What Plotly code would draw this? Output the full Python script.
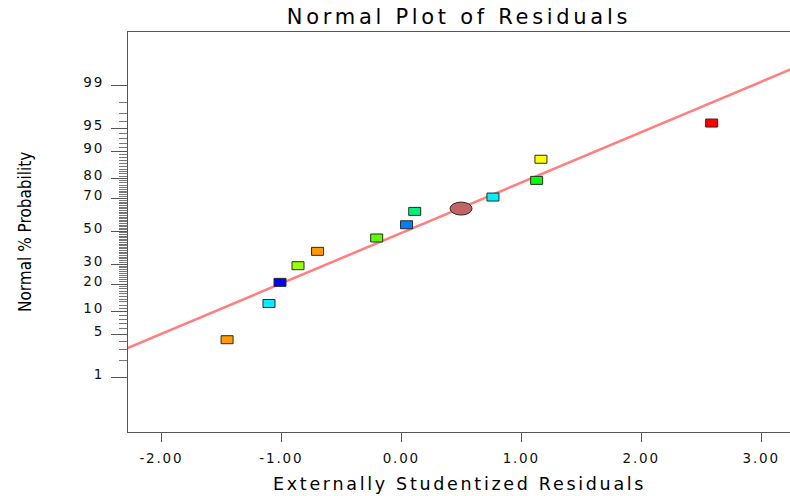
import plotly.graph_objects as go
from statistics import NormalDist

nd = NormalDist()

# ---------------- data ----------------
residuals = [-1.452, -1.103, -1.011, -0.861, -0.698, -0.205, 0.044, 0.112, 0.764, 1.128, 1.164, 2.587]
normal_pct = [4.2, 12.5, 20.8, 29.2, 37.5, 45.8, 54.2, 62.5, 70.8, 79.2, 87.5, 95.8]
point_colors = ["#ff9a00", "#00eeff", "#0000ff", "#9cff00", "#ff9a00", "#5cff00",
                "#0080ff", "#00f07a", "#00eeff", "#00ff00", "#ffff00", "#ff0000"]
highlight_residual = [0.498]
highlight_pct = [64.2]
highlight_color = "#c06464"

fit_mean = 0.032
fit_sd = 1.244
fit_x = [-2.4, 3.4]

y_tick_pct = [1, 5, 10, 20, 30, 50, 70, 80, 90, 95, 99]
y_minor_pct = list(range(1, 100))
x_tick_vals = [-2, -1, 0, 1, 2, 3]
x_tick_labels = ["-2.00", "-1.00", "0.00", "1.00", "2.00", "3.00"]

title_text = "Normal Plot of Residuals"
x_title = "Externally Studentized Residuals"
y_title = "Normal % Probability"

# ---------------- figure ----------------
def z(p):
    return nd.inv_cdf(p / 100.0)


def spaced(s, px):
    return "<span style='letter-spacing:%.1fpx'>%s</span>" % (px, s)


fig = go.Figure()

fit_z = [(v - fit_mean) / fit_sd for v in fit_x]
fig.add_trace(go.Scatter(x=fit_x, y=fit_z, mode="lines",
                         line=dict(color="#ff7f7f", width=2.5),
                         hoverinfo="skip", showlegend=False))

pts_z = [z(p) for p in normal_pct]
fig.add_trace(go.Scatter(x=residuals, y=pts_z, mode="markers",
                         marker=dict(size=10, opacity=0),
                         customdata=normal_pct,
                         hovertemplate="%{x:.3f}, %{customdata}%<extra></extra>",
                         showlegend=False))

shapes = []
for xv, zv, c in zip(residuals, pts_z, point_colors):
    shapes.append(dict(type="rect", xref="x", yref="y",
                       xsizemode="pixel", ysizemode="pixel",
                       xanchor=xv, yanchor=zv, x0=-6, x1=6, y0=-4, y1=4,
                       fillcolor=c, line=dict(color="#2a2a2a", width=1), layer="above"))
for xv, pv in zip(highlight_residual, highlight_pct):
    shapes.append(dict(type="circle", xref="x", yref="y",
                       xsizemode="pixel", ysizemode="pixel",
                       xanchor=xv, yanchor=z(pv), x0=-11, x1=11, y0=-6.5, y1=6.5,
                       fillcolor=highlight_color, line=dict(color="#2a2a2a", width=1),
                       layer="above"))

font_main = "DejaVu Sans, Verdana, sans-serif"

fig.update_layout(
    width=790, height=496,
    margin=dict(l=128, r=0, t=32, b=64),
    paper_bgcolor="white", plot_bgcolor="white",
    shapes=shapes,
    showlegend=False,
    title=dict(text=spaced(title_text, 3.7), x=0.5, xref="paper", y=1 - 17 / 496,
               yref="container", xanchor="center", yanchor="middle",
               font=dict(family=font_main, size=21, color="#000")),
    xaxis=dict(range=[-2.278, 3.24], tickmode="array", tickvals=x_tick_vals,
               ticktext=[spaced(t, 1.8) for t in x_tick_labels],
               ticks="outside", ticklen=9, tickwidth=1,
               tickcolor="#555", showline=True, linecolor="#555", linewidth=1,
               mirror=True, showgrid=False, zeroline=False, ticklabelstandoff=5,
               tickfont=dict(family=font_main, size=13.5, color="#111")),
    yaxis=dict(range=[-3.2, 3.18], tickmode="array",
               tickvals=[z(p) for p in y_tick_pct],
               ticktext=[spaced(str(p), 1.9) for p in y_tick_pct],
               ticks="outside", ticklen=16, tickwidth=1, tickcolor="#555",
               showline=True, linecolor="#555", linewidth=1, mirror=False,
               showgrid=False, zeroline=False, ticklabelstandoff=4, ticklabelshift=-3,
               minor=dict(tickmode="array", tickvals=[z(p) for p in y_minor_pct],
                          ticks="outside", ticklen=8, tickcolor="#777", tickwidth=1,
                          showgrid=False),
               tickfont=dict(family=font_main, size=13.5, color="#111")),
    annotations=[
        dict(text=spaced(x_title, 2.7), xref="paper", yref="paper", x=0.5,
             y=(432 - 484) / 400, xanchor="center", yanchor="middle", showarrow=False,
             font=dict(family=font_main, size=17.5, color="#000")),
        dict(text=y_title, xref="paper", yref="paper", x=(25 - 128) / 662, y=0.5,
             xanchor="center", yanchor="middle", showarrow=False, textangle=-90,
             font=dict(family="Liberation Sans Narrow, DejaVu Sans Condensed, sans-serif",
                       size=17, color="#000")),
    ],
)

fig.write_html("out.html")
